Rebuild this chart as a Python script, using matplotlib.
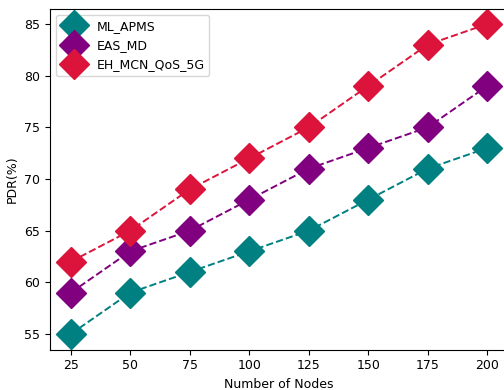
import matplotlib
matplotlib.use("Agg")
import matplotlib.pyplot as plt

# Data
nodes = [25, 50, 75, 100, 125, 150, 175, 200]
ml_apms = [55, 59, 61, 63, 65, 68, 71, 73]
eas_md = [59, 63, 65, 68, 71, 73, 75, 79]
eh_mcn = [62, 65, 69, 72, 75, 79, 83, 85]

plt.rcParams["font.size"] = 9

fig = plt.figure(figsize=(5.04, 3.9), dpi=100)
ax = fig.add_axes([50 / 504, 40.5 / 390, 458 / 504, 341 / 390])

ax.plot(nodes, ml_apms, marker="D", linestyle="--", color="teal",
        markersize=15, linewidth=1.4, label="ML_APMS")
ax.plot(nodes, eas_md, marker="D", linestyle="--", color="purple",
        markersize=15, linewidth=1.4, label="EAS_MD")
ax.plot(nodes, eh_mcn, marker="D", linestyle="--", color="crimson",
        markersize=15, linewidth=1.4, label="EH_MCN_QoS_5G")

ax.set_xticks(nodes)
ax.set_xlabel("Number of Nodes")
ax.set_ylabel("PDR(%)")
ax.legend(loc="upper left")

fig.savefig("out.png", dpi=100)
